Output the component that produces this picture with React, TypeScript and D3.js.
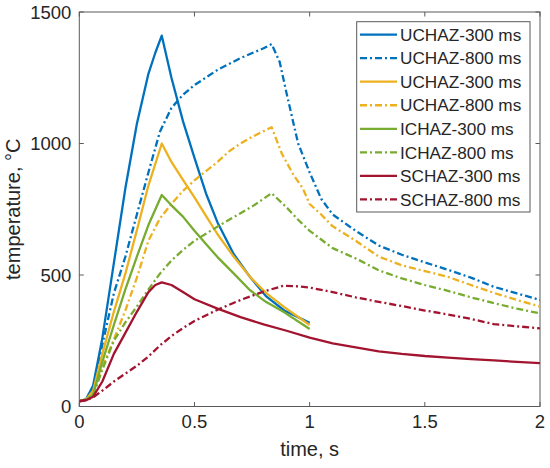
import React from "react";
import * as d3 from "d3";

// ---- data ----
const uchaz300T = [0, 0.03, 0.06, 0.1, 0.15, 0.2, 0.25, 0.3, 0.33, 0.358, 0.4, 0.45, 0.5, 0.55, 0.6, 0.67, 0.74, 0.81, 0.89, 1.0];
const uchaz300V = [20, 28, 80, 260, 545, 830, 1075, 1265, 1345, 1410, 1250, 1085, 945, 810, 700, 580, 494, 420, 365, 318];

const uchaz800T = [0, 0.03, 0.06, 0.1, 0.15, 0.2, 0.25, 0.3, 0.35, 0.4, 0.45, 0.5, 0.6, 0.7, 0.8, 0.835, 0.87, 0.9, 0.95, 1.0, 1.05, 1.1, 1.2, 1.3, 1.4, 1.5, 1.6, 1.7, 1.8, 1.9, 2.0];
const uchaz800V = [20, 27, 70, 235, 430, 570, 730, 890, 1045, 1135, 1185, 1222, 1280, 1325, 1362, 1378, 1310, 1190, 1000, 890, 790, 730, 668, 612, 577, 548, 520, 490, 455, 430, 405];

const yel300T = [0, 0.03, 0.06, 0.1, 0.15, 0.2, 0.25, 0.3, 0.358, 0.4, 0.45, 0.5, 0.55, 0.6, 0.67, 0.74, 0.81, 0.89, 1.0];
const yel300V = [20, 27, 60, 200, 360, 505, 670, 840, 1000, 930, 862, 795, 725, 655, 570, 494, 432, 378, 310];

const yel800T = [0, 0.03, 0.06, 0.1, 0.15, 0.2, 0.25, 0.3, 0.35, 0.4, 0.45, 0.5, 0.55, 0.6, 0.65, 0.7, 0.75, 0.835, 0.88, 0.93, 0.97, 1.0, 1.05, 1.1, 1.2, 1.3, 1.4, 1.5, 1.6, 1.7, 1.8, 1.9, 2.0];
const yel800V = [20, 26, 50, 150, 255, 365, 490, 630, 715, 770, 820, 860, 895, 930, 970, 1000, 1025, 1062, 960, 880, 830, 770, 730, 685, 630, 570, 537, 515, 493, 462, 432, 405, 380];

const ichaz300T = [0, 0.03, 0.06, 0.1, 0.15, 0.2, 0.25, 0.3, 0.358, 0.4, 0.45, 0.5, 0.55, 0.6, 0.67, 0.74, 0.81, 0.89, 1.0];
const ichaz300V = [20, 26, 45, 170, 310, 445, 570, 690, 804, 765, 722, 668, 618, 568, 506, 443, 398, 358, 295];

const ichaz800T = [0, 0.03, 0.06, 0.1, 0.15, 0.2, 0.25, 0.3, 0.35, 0.4, 0.45, 0.5, 0.6, 0.7, 0.75, 0.835, 0.9, 0.95, 1.0, 1.05, 1.1, 1.2, 1.3, 1.4, 1.5, 1.6, 1.7, 1.8, 1.9, 2.0];
const ichaz800V = [20, 25, 42, 140, 250, 320, 380, 445, 505, 555, 595, 630, 684, 735, 760, 811, 757, 710, 668, 635, 602, 563, 518, 487, 462, 440, 415, 393, 372, 354];

const schaz300T = [0, 0.03, 0.06, 0.1, 0.15, 0.2, 0.25, 0.3, 0.33, 0.358, 0.4, 0.45, 0.5, 0.6, 0.7, 0.8, 0.9, 1.0, 1.1, 1.2, 1.3, 1.4, 1.5, 1.6, 1.7, 1.8, 1.9, 2.0];
const schaz300V = [20, 24, 37, 95, 200, 280, 360, 435, 462, 472, 462, 435, 408, 372, 340, 312, 288, 262, 240, 225, 210, 200, 192, 186, 180, 175, 170, 165];

const schaz800T = [0, 0.03, 0.06, 0.1, 0.15, 0.2, 0.25, 0.3, 0.35, 0.4, 0.45, 0.5, 0.6, 0.7, 0.8, 0.886, 0.95, 1.0, 1.1, 1.2, 1.3, 1.4, 1.5, 1.6, 1.7, 1.8, 1.9, 2.0];
const schaz800V = [20, 24, 35, 60, 95, 125, 155, 190, 232, 268, 298, 325, 368, 405, 437, 459, 457, 452, 435, 415, 398, 382, 365, 350, 333, 313, 305, 297];

const seriesNames = ["UCHAZ-300 ms", "UCHAZ-800 ms", "UCHAZ-300 ms", "UCHAZ-800 ms", "ICHAZ-300 ms", "ICHAZ-800 ms", "SCHAZ-300 ms", "SCHAZ-800 ms"];
const seriesColors = ["#0072BD", "#0072BD", "#EDB120", "#EDB120", "#77AC30", "#77AC30", "#A2142F", "#A2142F"];
const seriesDashed = [false, true, false, true, false, true, false, true];
const seriesT = [uchaz300T, uchaz800T, yel300T, yel800T, ichaz300T, ichaz800T, schaz300T, schaz800T];
const seriesV = [uchaz300V, uchaz800V, yel300V, yel800V, ichaz300V, ichaz800V, schaz300V, schaz800V];

const xTicks = [0, 0.5, 1, 1.5, 2];
const xTickLabels = ["0", "0.5", "1", "1.5", "2"];
const yTicks = [0, 500, 1000, 1500];
const yTickLabels = ["0", "500", "1000", "1500"];

const FONT = "'Liberation Sans', Arial, Helvetica, sans-serif";
const TXT = "#262626";
const AX = "#5a5a5a";

export default function App() {
  const W = 550, H = 468;
  const left = 79.3, right = 540, top = 12, bottom = 406.5;
  const x = d3.scaleLinear().domain([0, 2]).range([left, right]);
  const y = d3.scaleLinear().domain([0, 1500]).range([bottom, top]);
  const line = d3.line<[number, number]>().x((d) => x(d[0])).y((d) => y(d[1]));
  const tl = 4.5;
  const dash = "7,3,2,3";
  const tickFs = 18.5;
  const labFs = 20;
  const legFs = 17.2;

  const lx = 356.7, ly = 21.7, lw = 173.3, lh = 190.3;
  const legY0 = 34.6, legDy = 23.55;

  return (
    <svg width={W} height={H} style={{ position: "absolute", left: 0, top: 0, background: "#fff" }}>
      <rect x={0} y={0} width={W} height={H} fill="#fff" />
      <defs>
        <clipPath id="plotclip">
          <rect x={left} y={top} width={right - left} height={bottom - top} />
        </clipPath>
      </defs>
      {/* axes box */}
      <rect x={left} y={top} width={right - left} height={bottom - top} fill="none" stroke={AX} strokeWidth={1} />
      {xTicks.map((t, i) => (
        <g key={"xt" + i}>
          <line x1={x(t)} x2={x(t)} y1={bottom} y2={bottom - tl} stroke={AX} strokeWidth={1} />
          <line x1={x(t)} x2={x(t)} y1={top} y2={top + tl} stroke={AX} strokeWidth={1} />
          <text x={x(t)} y={428} textAnchor="middle" fontFamily={FONT} fontSize={tickFs} fill={TXT}>
            {xTickLabels[i]}
          </text>
        </g>
      ))}
      {yTicks.map((v, i) => (
        <g key={"yt" + i}>
          <line x1={left} x2={left + tl} y1={y(v)} y2={y(v)} stroke={AX} strokeWidth={1} />
          <line x1={right} x2={right - tl} y1={y(v)} y2={y(v)} stroke={AX} strokeWidth={1} />
          <text x={71.3} y={y(v) + tickFs * 0.36} textAnchor="end" fontFamily={FONT} fontSize={tickFs} fill={TXT}>
            {yTickLabels[i]}
          </text>
        </g>
      ))}
      <text x={(left + right) / 2} y={456} textAnchor="middle" fontFamily={FONT} fontSize={labFs} fill={TXT}>
        time, s
      </text>
      <text
        transform={`translate(20,${(top + bottom) / 2}) rotate(-90)`}
        textAnchor="middle"
        fontFamily={FONT}
        fontSize={labFs}
        fill={TXT}
      >
        temperature, °C
      </text>
      {/* series */}
      <g clipPath="url(#plotclip)">
        {seriesT.map((ts, i) => {
          const pts: [number, number][] = ts.map((t, j) => [t, seriesV[i][j]]);
          return (
            <path
              key={"s" + i}
              d={line(pts) || ""}
              fill="none"
              stroke={seriesColors[i]}
              strokeWidth={2.3}
              strokeDasharray={seriesDashed[i] ? dash : undefined}
              strokeLinejoin="round"
            />
          );
        })}
      </g>
      {/* legend */}
      <rect x={lx} y={ly} width={lw} height={lh} fill="#fff" stroke={AX} strokeWidth={1} />
      {seriesNames.map((n, i) => {
        const yy = legY0 + i * legDy;
        return (
          <g key={"lg" + i}>
            <line
              x1={360}
              x2={397}
              y1={yy}
              y2={yy}
              stroke={seriesColors[i]}
              strokeWidth={2.3}
              strokeDasharray={seriesDashed[i] ? dash : undefined}
            />
            <text x={400} y={yy + legFs * 0.36} fontFamily={FONT} fontSize={legFs} fill={TXT}>
              {n}
            </text>
          </g>
        );
      })}
    </svg>
  );
}
